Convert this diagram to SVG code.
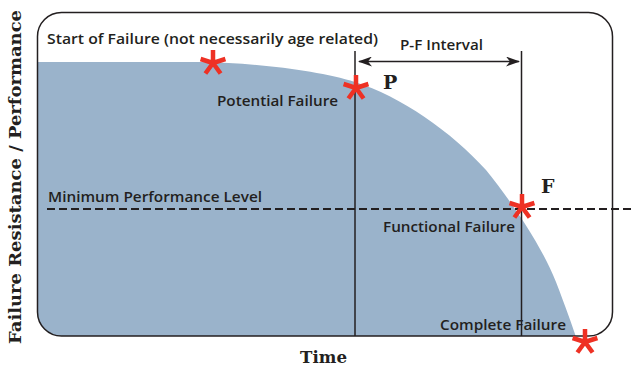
<svg xmlns="http://www.w3.org/2000/svg" width="633" height="367" viewBox="0 0 633 367">
<style>
.lbl{font-family:"Open Sans","Liberation Sans",sans-serif;font-weight:600;font-size:14px;fill:#231f20}
.slab{font-family:"DejaVu Serif","Liberation Serif",serif;font-weight:bold;fill:#231f20}
.ln{stroke:#231f20;stroke-width:1.5;fill:none}
.ast{stroke:#ee3124;stroke-width:4.5;stroke-linecap:butt;fill:none}
</style>
<defs>
<clipPath id="frameClip"><rect x="37.5" y="12.5" width="575" height="323.5" rx="24"/></clipPath>
<marker id="ah" viewBox="0 0 14 10" refX="13" refY="5" markerWidth="14" markerHeight="10" markerUnits="userSpaceOnUse" orient="auto-start-reverse">
<path d="M0,0 L14,5 L0,10 L4,5 Z" fill="#231f20"/>
</marker>
<g id="star"><path class="ast" d="M0,0 L0,-13 M0,0 L12.4,-4 M0,0 L-12.4,-4 M0,0 L7.6,10.5 M0,0 L-7.6,10.5"/></g>
</defs>
<rect width="633" height="367" fill="#ffffff"/>
<g id="curve-area" clip-path="url(#frameClip)">
<path d="M37,62 L200,62 C260,63 320,71 355,82 C400,96 452,132 486,170 C510,200 540,242 556,282 C566,308 572,325 576,337 L37,337 Z" fill="#9ab3cb"/>
</g>
<g id="frame">
<rect x="37.5" y="12.5" width="575" height="323.5" rx="24" class="ln"/>
</g>
<g id="connectors">
<line x1="355" y1="51" x2="355" y2="336" class="ln"/>
<line x1="521.5" y1="51" x2="521.5" y2="336" class="ln"/>
<line x1="359" y1="61.5" x2="519" y2="61.5" class="ln" marker-start="url(#ah)" marker-end="url(#ah)"/>
<line x1="47" y1="209" x2="633" y2="209" stroke="#231f20" stroke-width="2" stroke-dasharray="8,4"/>
</g>
<g id="start-failure">
<text class="lbl" x="47" y="44" textLength="331" lengthAdjust="spacingAndGlyphs">Start of Failure (not necessarily age related)</text>
<use href="#star" x="213" y="63"/>
</g>
<g id="pf-interval">
<text class="lbl" x="400" y="50" textLength="83" lengthAdjust="spacingAndGlyphs">P-F Interval</text>
</g>
<g id="potential-failure">
<use href="#star" x="356" y="88"/>
<text class="slab" x="383" y="89" font-size="19">P</text>
<text class="lbl" x="217" y="106" textLength="121" lengthAdjust="spacingAndGlyphs">Potential Failure</text>
</g>
<g id="min-level">
<text class="lbl" x="48" y="202" textLength="214" lengthAdjust="spacingAndGlyphs">Minimum Performance Level</text>
</g>
<g id="functional-failure">
<use href="#star" x="522" y="207"/>
<text class="slab" x="541" y="193" font-size="19">F</text>
<text class="lbl" x="383" y="232" textLength="132" lengthAdjust="spacingAndGlyphs">Functional Failure</text>
</g>
<g id="complete-failure">
<text class="lbl" x="440" y="330" textLength="126" lengthAdjust="spacingAndGlyphs">Complete Failure</text>
<use href="#star" x="585" y="342"/>
</g>
<g id="axes-labels">
<text class="slab" x="300" y="363" font-size="17" textLength="47" lengthAdjust="spacingAndGlyphs">Time</text>
<text class="slab" transform="translate(21,344) rotate(-90)" x="0" y="0" font-size="17" textLength="334" lengthAdjust="spacingAndGlyphs">Failure Resistance / Performance</text>
</g>
</svg>
